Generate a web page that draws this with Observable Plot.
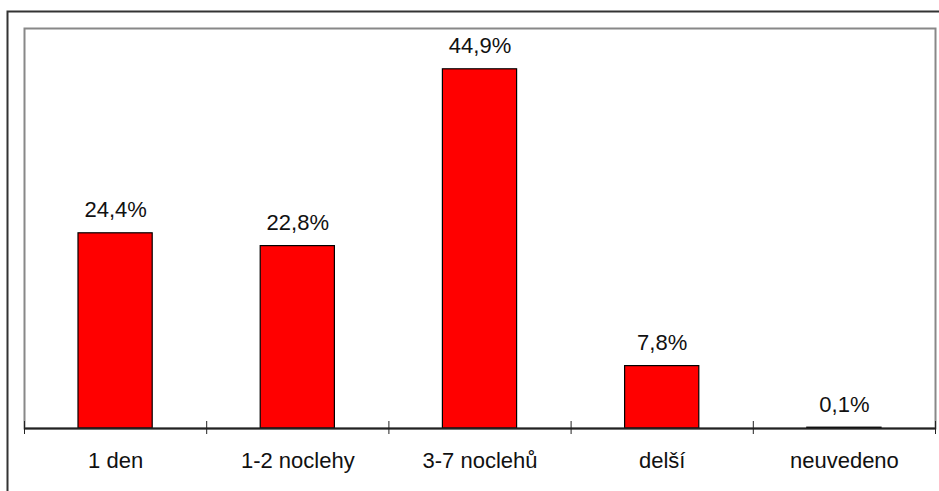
<!DOCTYPE html>
<html>
<head>
<meta charset="utf-8">
<script src="https://cdn.jsdelivr.net/npm/d3@7"></script>
<script src="https://cdn.jsdelivr.net/npm/@observablehq/plot@0.6"></script>
<style>
  html, body { margin: 0; padding: 0; background: white; overflow: hidden; }
</style>
</head>
<body>
<div id="chart"></div>
<script>
// Length of stay: share of respondents (%)
const categories = ["1 den", "1-2 noclehy", "3-7 noclehů", "delší", "neuvedeno"];
const shares = [24.4, 22.8, 44.9, 7.8, 0.1];
const yDomain = [0, 50];

const data = categories.map((category, index) => ({category, index, share: shares[index]}));
const boundaries = d3.range(categories.length + 1);
const fmt = v => v.toFixed(1).replace(".", ",") + "%";

const chart = Plot.plot({
  width: 939,
  height: 491,
  marginLeft: 24,
  marginRight: 4,
  marginTop: 28,
  marginBottom: 63,
  x: {domain: [0, categories.length], axis: null},
  y: {domain: yDomain, axis: null},
  style: {fontFamily: "'Liberation Sans', Arial, sans-serif", background: "white", color: "black"},
  marks: [
    // outer chart border (runs off the right and bottom edges)
    Plot.frame({stroke: "#333", strokeWidth: 2, insetTop: -17, insetLeft: -17, insetRight: -40, insetBottom: -100}),
    // plot area border
    Plot.frame({stroke: "#888", strokeWidth: 2}),
    Plot.rectY(data, {
      x1: "index",
      x2: d => d.index + 1,
      y: "share",
      fill: "#ff0000",
      stroke: "black",
      strokeWidth: 1.2,
      insetLeft: 54,
      insetRight: 54
    }),
    Plot.ruleY([0], {stroke: "#222", strokeWidth: 2}),
    // category separator ticks crossing the baseline
    Plot.ruleX(boundaries, {x: d => d, y1: 0, y2: 0, insetTop: -7, insetBottom: -6, stroke: "#222", strokeWidth: 1}),
    Plot.text(data, {
      x: d => d.index + 0.5,
      y: "share",
      text: d => fmt(d.share),
      lineAnchor: "bottom",
      dy: -16,
      fontSize: 22,
      fill: "#111"
    }),
    Plot.text(data, {
      x: d => d.index + 0.5,
      y: 0,
      text: "category",
      lineAnchor: "bottom",
      dy: 39,
      fontSize: 22,
      fill: "#111"
    })
  ]
});

document.getElementById("chart").append(chart);
</script>
</body>
</html>
